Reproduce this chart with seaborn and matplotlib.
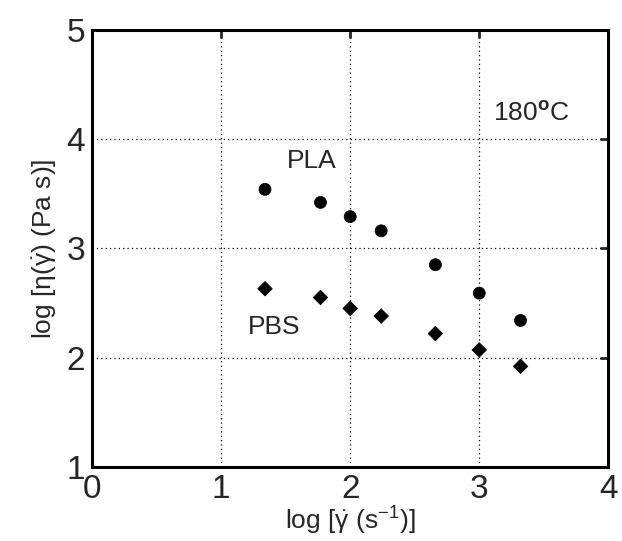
import matplotlib
matplotlib.use("Agg")
import matplotlib.pyplot as plt
import seaborn as sns
import pandas as pd

# log shear rate (s^-1)
shear_rate = [1.34, 1.77, 2.00, 2.24, 2.66, 3.00, 3.32]
# log viscosity (Pa s)
pla_visc = [3.54, 3.42, 3.29, 3.16, 2.85, 2.59, 2.34]
pbs_visc = [2.63, 2.55, 2.45, 2.38, 2.22, 2.07, 1.92]

x_ticks = [0, 1, 2, 3, 4]
y_ticks = [1, 2, 3, 4, 5]

sns.set_style("white")
plt.rcParams['font.family'] = ['Liberation Sans', 'DejaVu Sans']
plt.rcParams['mathtext.fontset'] = 'custom'
plt.rcParams['mathtext.rm'] = 'Liberation Sans'
plt.rcParams['mathtext.it'] = 'Liberation Sans'
plt.rcParams['mathtext.bf'] = 'Liberation Sans:bold'

df = pd.DataFrame({
    'rate': shear_rate * 2,
    'visc': pla_visc + pbs_visc,
    'polymer': ['PLA'] * len(pla_visc) + ['PBS'] * len(pbs_visc),
})

fig = plt.figure(figsize=(6.22, 5.41), dpi=100)
ax = fig.add_axes([0.148, 0.137, 0.830, 0.808])

sns.scatterplot(data=df, x='rate', y='visc', style='polymer',
                markers={'PLA': 'o', 'PBS': 'D'}, hue='polymer',
                palette={'PLA': 'black', 'PBS': 'black'},
                size='polymer', sizes={'PLA': 75, 'PBS': 55},
                edgecolor='black', linewidth=0.5, legend=False, ax=ax, zorder=3)

ax.set_xlim(0, 4)
ax.set_ylim(1, 5)
ax.set_xticks(x_ticks)
ax.set_yticks(y_ticks)
ax.grid(True, color='black', linestyle=(0, (1, 2.5)), linewidth=0.9)
ax.tick_params(direction='in', length=6, width=2, labelsize=24,
               top=True, right=True, pad=5)
for sp in ax.spines.values():
    sp.set_linewidth(2.2)
    sp.set_color('black')

ax.set_xlabel(r'log [$\dot{\gamma}$ (s$^{-1}$)]', fontsize=19, labelpad=0)
ax.set_ylabel(r'log [$\eta(\dot{\gamma})$ (Pa s)]', fontsize=19, labelpad=6)

ax.text(1.70, 3.80, 'PLA', fontsize=19, ha='center', va='center')
ax.text(1.41, 2.28, 'PBS', fontsize=19, ha='center', va='center')
ax.text(3.40, 4.23, r'180$^{\mathbf{o}}$C', fontsize=19, ha='center', va='center')

fig.savefig('out.png', dpi=100)
